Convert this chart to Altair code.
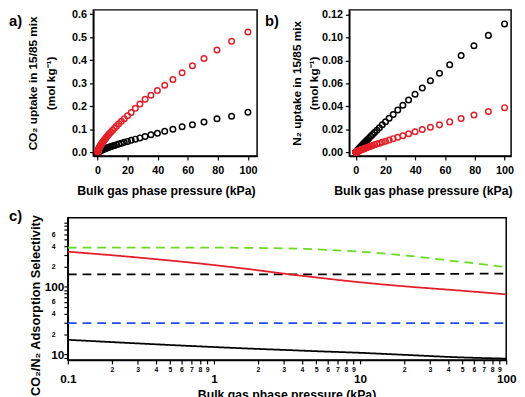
import altair as alt
import pandas as pd

# ---------------- data ----------------
PRESSURE = [0.1, 0.1122, 0.1259, 0.1413, 0.1585, 0.1778, 0.1995, 0.2239, 0.2512, 0.2818,
            0.3162, 0.3548, 0.3981, 0.4467, 0.5012, 0.5623, 0.631, 0.7079, 0.7943, 0.8913,
            1.0, 1.122, 1.259, 1.413, 1.585, 1.778, 1.995, 2.239, 2.512, 2.818,
            3.162, 3.548, 3.981, 4.467, 5.012, 5.623, 6.31, 7.079, 7.943, 8.913,
            10.0, 11.22, 12.59, 14.13, 15.85, 17.78, 19.95, 22.39, 25.12, 28.18,
            31.62, 35.48, 39.81, 44.67, 50.12, 56.23, 63.1, 70.79, 79.43, 89.13, 100.0]

CO2_RED = [0.0028, 0.0030, 0.0033, 0.0037, 0.0040, 0.0044, 0.0049, 0.0053, 0.0059, 0.0065,
           0.0071, 0.0078, 0.0086, 0.0094, 0.0103, 0.0114, 0.0125, 0.0137, 0.0151, 0.0166,
           0.0182, 0.0198, 0.0215, 0.0234, 0.0254, 0.0276, 0.0300, 0.0326, 0.0354, 0.0385,
           0.0419, 0.0455, 0.0495, 0.0538, 0.0585, 0.0636, 0.0691, 0.0751, 0.0816, 0.0887,
           0.0964, 0.1048, 0.1139, 0.1238, 0.1346, 0.1463, 0.159, 0.173, 0.191, 0.210,
           0.230, 0.248, 0.268, 0.291, 0.316, 0.345, 0.376, 0.407, 0.444, 0.482, 0.522]

CO2_BLACK = [0.0006, 0.0006, 0.0007, 0.0008, 0.0009, 0.0010, 0.0011, 0.0012, 0.0013, 0.0015,
             0.0016, 0.0018, 0.0020, 0.0023, 0.0025, 0.0028, 0.0031, 0.0034, 0.0038, 0.0042,
             0.0047, 0.0051, 0.0056, 0.0061, 0.0067, 0.0073, 0.0080, 0.0087, 0.0095, 0.0104,
             0.0113, 0.0124, 0.0135, 0.0148, 0.0161, 0.0176, 0.0193, 0.0211, 0.0230, 0.0252,
             0.0275, 0.0301, 0.0330, 0.0362, 0.0397, 0.0435, 0.0477, 0.0523, 0.0574, 0.0629,
             0.069, 0.0766, 0.083, 0.092, 0.100, 0.111, 0.120, 0.132, 0.146, 0.157, 0.174]

N2_BLACK = [0.0002, 0.0002, 0.0002, 0.0002, 0.0003, 0.0003, 0.0003, 0.0004, 0.0004, 0.0005,
            0.0005, 0.0006, 0.0006, 0.0007, 0.0008, 0.0009, 0.0010, 0.0011, 0.0013, 0.0014,
            0.0016, 0.0018, 0.0020, 0.0022, 0.0024, 0.0027, 0.0030, 0.0034, 0.0038, 0.0042,
            0.0047, 0.0052, 0.0058, 0.0065, 0.0072, 0.0081, 0.0090, 0.0100, 0.0112, 0.0124,
            0.0139, 0.0155, 0.0172, 0.0192, 0.0214, 0.0239, 0.0266, 0.0296, 0.0330, 0.0368,
            0.0410, 0.0455, 0.0506, 0.0560, 0.0623, 0.0688, 0.0762, 0.0842, 0.0927, 0.1018, 0.1118]

N2_RED = [0.0001, 0.0001, 0.0001, 0.0001, 0.0001, 0.0001, 0.0002, 0.0002, 0.0002, 0.0002,
          0.0002, 0.0003, 0.0003, 0.0003, 0.0004, 0.0004, 0.0005, 0.0005, 0.0006, 0.0006,
          0.0007, 0.0008, 0.0009, 0.0010, 0.0011, 0.0012, 0.0013, 0.0014, 0.0016, 0.0018,
          0.0020, 0.0022, 0.0024, 0.0026, 0.0029, 0.0032, 0.0036, 0.0040, 0.0044, 0.0048,
          0.0053, 0.0059, 0.0065, 0.0072, 0.0080, 0.0088, 0.0097, 0.0108, 0.0119, 0.0131,
          0.0145, 0.0162, 0.0179, 0.0199, 0.0218, 0.0239, 0.0265, 0.0295, 0.0324, 0.0355, 0.0389]

SEL_PRESSURE = [0.1, 0.3, 1, 2, 3, 5, 10, 20, 47, 100]
SEL_RED = [331, 272, 210, 176, 157, 138, 117, 102, 88.6, 77.5]
SEL_BLACK = [16.5, 14.6, 12.9, 12.1, 11.7, 11.2, 10.6, 9.9, 9.1, 8.7]
SEL_GREEN_DASH = [380, 381, 380, 376, 371, 358, 331, 292, 237, 196]
SEL_BLACK_DASH = [153, 153, 153, 153, 153, 153, 153, 154, 156, 157]
SEL_BLUE_DASH = [29, 29, 29, 29, 29, 29, 29, 29, 29, 29]

X_TICKS_AB = [0, 20, 40, 60, 80, 100]
Y_TICKS_A = [0.0, 0.1, 0.2, 0.3, 0.4, 0.5, 0.6]
Y_TICKS_B = [0.0, 0.02, 0.04, 0.06, 0.08, 0.10, 0.12]
X_TICKS_C = [0.1, 0.2, 0.3, 0.4, 0.5, 0.6, 0.7, 0.8, 0.9, 1, 2, 3, 4, 5, 6, 7, 8, 9,
             10, 20, 30, 40, 50, 60, 70, 80, 90, 100]
Y_TICKS_C = [9, 10, 20, 30, 40, 50, 60, 70, 80, 90, 100, 200, 300, 400, 500, 600, 700, 800, 900]

# ---------------- style ----------------
FONT = "Liberation Sans"
RED = "#e41e26"
BLACK = "#000000"
GREEN = "#66dd1e"
BLUE = "#1f4fe6"

COMMON_AXIS = dict(
    labelFont=FONT, labelFontWeight="bold", labelColor=BLACK, labelFlush=False,
    labelOverlap=False, titleFont=FONT, titleFontWeight="bold", titleColor=BLACK,
    domainColor=BLACK, domainWidth=1.5, tickColor=BLACK, tickWidth=1.2, grid=False,
    titleAlign="center", titleBaseline="middle",
)


def uptake_df(black, red):
    rows = [{"p": p, "q": q, "s": "black"} for p, q in zip(PRESSURE, black)]
    rows += [{"p": p, "q": q, "s": "red"} for p, q in zip(PRESSURE, red)]
    return pd.DataFrame(rows)


def uptake_panel(df, letter, width, xdomain, ydomain, yvalues, yformat, ytitle,
                 xtitle_x, ytitle_x):
    height = 149
    return alt.Chart(df).mark_point(
        shape="circle", filled=False, size=32, strokeWidth=1.5, opacity=1
    ).encode(
        x=alt.X("p:Q", scale=alt.Scale(domain=xdomain, nice=False, zero=False),
                axis=alt.Axis(values=X_TICKS_AB, format="d",
                              title="Bulk gas phase pressure (kPa)",
                              titleX=xtitle_x, titleY=35, titleFontSize=12.5,
                              labelFontSize=11, labelPadding=5, tickSize=4,
                              **COMMON_AXIS)),
        y=alt.Y("q:Q", scale=alt.Scale(domain=ydomain, nice=False, zero=False),
                axis=alt.Axis(values=yvalues, format=yformat, title=ytitle,
                              titleX=ytitle_x, titleY=height / 2, titleAngle=270,
                              titleLineHeight=18, titleFontSize=12,
                              labelFontSize=11, labelPadding=3, tickSize=4,
                              **COMMON_AXIS)),
        color=alt.Color("s:N", scale=alt.Scale(domain=["black", "red"], range=[BLACK, RED]),
                        legend=None),
    ).properties(
        width=width, height=height,
        title=alt.TitleParams(text=letter, anchor="start", frame="group", dx=-86,
                              offset=-21, fontSize=15, font=FONT,
                              fontWeight="bold", color=BLACK),
    )


panel_a = uptake_panel(uptake_df(CO2_BLACK, CO2_RED), "a)", 167, [-2.8, 106.1],
                       [-0.0157, 0.6183], Y_TICKS_A, ".1f",
                       ["CO₂ uptake in 15/85 mix", "(mol kg⁻¹)"], 74, -62)
panel_b = uptake_panel(uptake_df(N2_BLACK, N2_RED), "b)", 165, [-4.4, 104.4],
                       [-0.0032, 0.1240], Y_TICKS_B, ".2f",
                       ["N₂ uptake in 15/85 mix", "(mol kg⁻¹)"], 75, -54)

spacer = alt.Chart(pd.DataFrame({"v": [0]})).mark_point(opacity=0).encode(
    x=alt.X("v:Q", axis=None), y=alt.Y("v:Q", axis=None)
).properties(width=26, height=149, view=alt.ViewBackground(stroke="transparent"))

top_row = alt.hconcat(
    spacer,
    alt.hconcat(panel_a, panel_b, spacing=94, bounds="flush"),
    spacing=0, bounds="flush",
)

# ---------------- panel c ----------------
SERIES = ["black_dash", "blue_dash", "green_dash", "red", "black"]
SERIES_VALUES = [SEL_BLACK_DASH, SEL_BLUE_DASH, SEL_GREEN_DASH, SEL_RED, SEL_BLACK]
c_rows = []
for name, vals in zip(SERIES, SERIES_VALUES):
    for p, v in zip(SEL_PRESSURE, vals):
        c_rows.append({"p": p, "sel": v, "series": name})
c_df = pd.DataFrame(c_rows)

MAJ_X = "datum.value == 0.1 || datum.value == 1 || datum.value == 10 || datum.value == 100"
MAJ_Y = "datum.value == 10 || datum.value == 100"
DIGIT = "'' + round(datum.value / pow(10, floor(log(datum.value) / LN10 + 1e-9)))"

x_axis_c = alt.Axis(
    values=X_TICKS_C,
    labelExpr=f"({MAJ_X}) ? format(datum.value, '~g') : {DIGIT}",
    labelFontSize={"condition": {"test": MAJ_X, "value": 12}, "value": 7},
    labelPadding={"condition": {"test": MAJ_X, "value": 10}, "value": 2},
    tickSize=4,
    title="Bulk gas phase pressure (kPa)", titleX=223, titleY=35, titleFontSize=12.5,
    **COMMON_AXIS,
)
y_axis_c = alt.Axis(
    values=Y_TICKS_C,
    labelExpr=(f"({MAJ_Y}) ? '' + datum.value : "
               f"(indexof([20, 40, 60, 200, 400, 600], datum.value) >= 0 ? {DIGIT} : '')"),
    labelFontSize={"condition": {"test": MAJ_Y, "value": 12}, "value": 7},
    labelPadding={"condition": {"test": MAJ_Y, "value": 0}, "value": 9},
    tickSize=4,
    title="CO₂/N₂ Adsorption Selectivity", titleX=-33, titleY=89, titleAngle=270,
    titleFontSize=13,
    **COMMON_AXIS,
)

panel_c = alt.Chart(c_df).mark_line(strokeWidth=1.8, interpolate="monotone").encode(
    x=alt.X("p:Q", scale=alt.Scale(type="log", domain=[0.1, 100], nice=False), axis=x_axis_c),
    y=alt.Y("sel:Q", scale=alt.Scale(type="log", domain=[8.3, 1050], nice=False), axis=y_axis_c),
    color=alt.Color("series:N", scale=alt.Scale(domain=SERIES,
                                                range=[BLACK, BLUE, GREEN, RED, BLACK]),
                    legend=None),
    strokeDash=alt.StrokeDash("series:N", scale=alt.Scale(
        domain=SERIES, range=[[9, 6], [9, 6], [9, 6], [1, 0], [1, 0]]), legend=None),
).properties(
    width=447, height=145,
    title=alt.TitleParams(text="c)", anchor="start", frame="group", dx=-60,
                          offset=-10, fontSize=15, font=FONT,
                          fontWeight="bold", color=BLACK),
)

chart = alt.vconcat(top_row, panel_c, spacing=10).resolve_scale(
    color="independent", strokeDash="independent"
).properties(
    padding={"top": -5, "left": 0, "right": 0, "bottom": 0}
).configure_view(stroke=BLACK, strokeWidth=1.5)

chart.save("out.html", embed_options={"renderer": "svg", "actions": False})
